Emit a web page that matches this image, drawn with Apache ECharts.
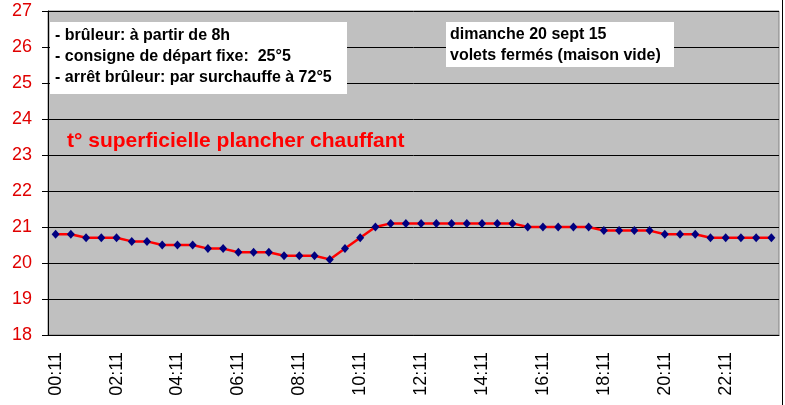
<!DOCTYPE html>
<html>
<head>
<meta charset="utf-8">
<script src="https://cdn.jsdelivr.net/npm/echarts@6/dist/echarts.min.js"></script>
<style>
html,body{margin:0;padding:0;background:#fff;}
#chart{width:785px;height:405px;}
</style>
</head>
<body>
<div id="chart"></div>
<script>
const categories = [
 "00:11","00:41","01:11","01:41","02:11","02:41","03:11","03:41",
 "04:11","04:41","05:11","05:41","06:11","06:41","07:11","07:41",
 "08:11","08:41","09:11","09:41","10:11","10:41","11:11","11:41",
 "12:11","12:41","13:11","13:41","14:11","14:41","15:11","15:41",
 "16:11","16:41","17:11","17:41","18:11","18:41","19:11","19:41",
 "20:11","20:41","21:11","21:41","22:11","22:41","23:11","23:41"
];
const temperature = [
 20.8,20.8,20.7,20.7,20.7,20.6,20.6,20.5,
 20.5,20.5,20.4,20.4,20.3,20.3,20.3,20.2,
 20.2,20.2,20.1,20.4,20.7,21.0,21.1,21.1,
 21.1,21.1,21.1,21.1,21.1,21.1,21.1,21.0,
 21.0,21.0,21.0,21.0,20.9,20.9,20.9,20.9,
 20.8,20.8,20.8,20.7,20.7,20.7,20.7,20.7
];
const noteLeft = ["- brûleur: à partir de 8h","- consigne de départ fixe:  25°5","- arrêt brûleur: par surchauffe à 72°5"];
const noteRight = ["dimanche 20 sept 15","volets fermés (maison vide)"];
const seriesTitle = "t° superficielle plancher chauffant";

const FONT = "'Liberation Sans', Arial, sans-serif";
const chart = echarts.init(document.getElementById('chart'), null, {renderer:'canvas'});
chart.setOption({
  animation:false,
  backgroundColor:'#ffffff',
  grid:{left:48, top:11, right:6, bottom:70, show:true, backgroundColor:'#c0c0c0', borderColor:'#808080', borderWidth:1},
  xAxis:{
    type:'category', data:categories, boundaryGap:true,
    axisLine:{lineStyle:{color:'#000', width:1}},
    axisTick:{interval:1, length:6, lineStyle:{color:'#000'}},
    axisLabel:{interval:3, rotate:90, color:'#000', fontFamily:FONT, fontSize:18, margin:17},
    splitLine:{show:false}
  },
  yAxis:{
    type:'value', min:18, max:27, interval:1,
    axisLine:{show:true, lineStyle:{color:'#000', width:1}},
    axisTick:{show:true, length:6, lineStyle:{color:'#000'}},
    axisLabel:{color:'#e00000', fontFamily:FONT, fontSize:18, margin:16},
    splitLine:{show:true, lineStyle:{color:'#000', width:1}}
  },
  series:[{
    type:'line', data:temperature,
    lineStyle:{color:'#ff0000', width:2.5},
    symbol:'diamond', symbolSize:[8,9],
    itemStyle:{color:'#000080'},
    z:3
  }],
  graphic:[
    {type:'rect', shape:{x:50, y:22, width:297, height:72}, style:{fill:'#fff'}, z:10},
    {type:'text', left:55, top:25, z:11, style:{text:noteLeft.join('\n'), font:'bold 16px '+FONT, fill:'#000', lineHeight:21}},
    {type:'rect', shape:{x:446, y:22, width:228, height:45}, style:{fill:'#fff'}, z:10},
    {type:'text', left:450, top:24, z:11, style:{text:noteRight.join('\n'), font:'bold 16px '+FONT, fill:'#000', lineHeight:21}},
    {type:'text', left:67, top:131, z:11, style:{text:seriesTitle, font:'bold 21px '+FONT, fill:'#ff0000'}},
    {type:'line', shape:{x1:782.5, y1:0, x2:782.5, y2:405}, style:{stroke:'#000', lineWidth:1}, z:12}
  ]
});
</script>
</body>
</html>
